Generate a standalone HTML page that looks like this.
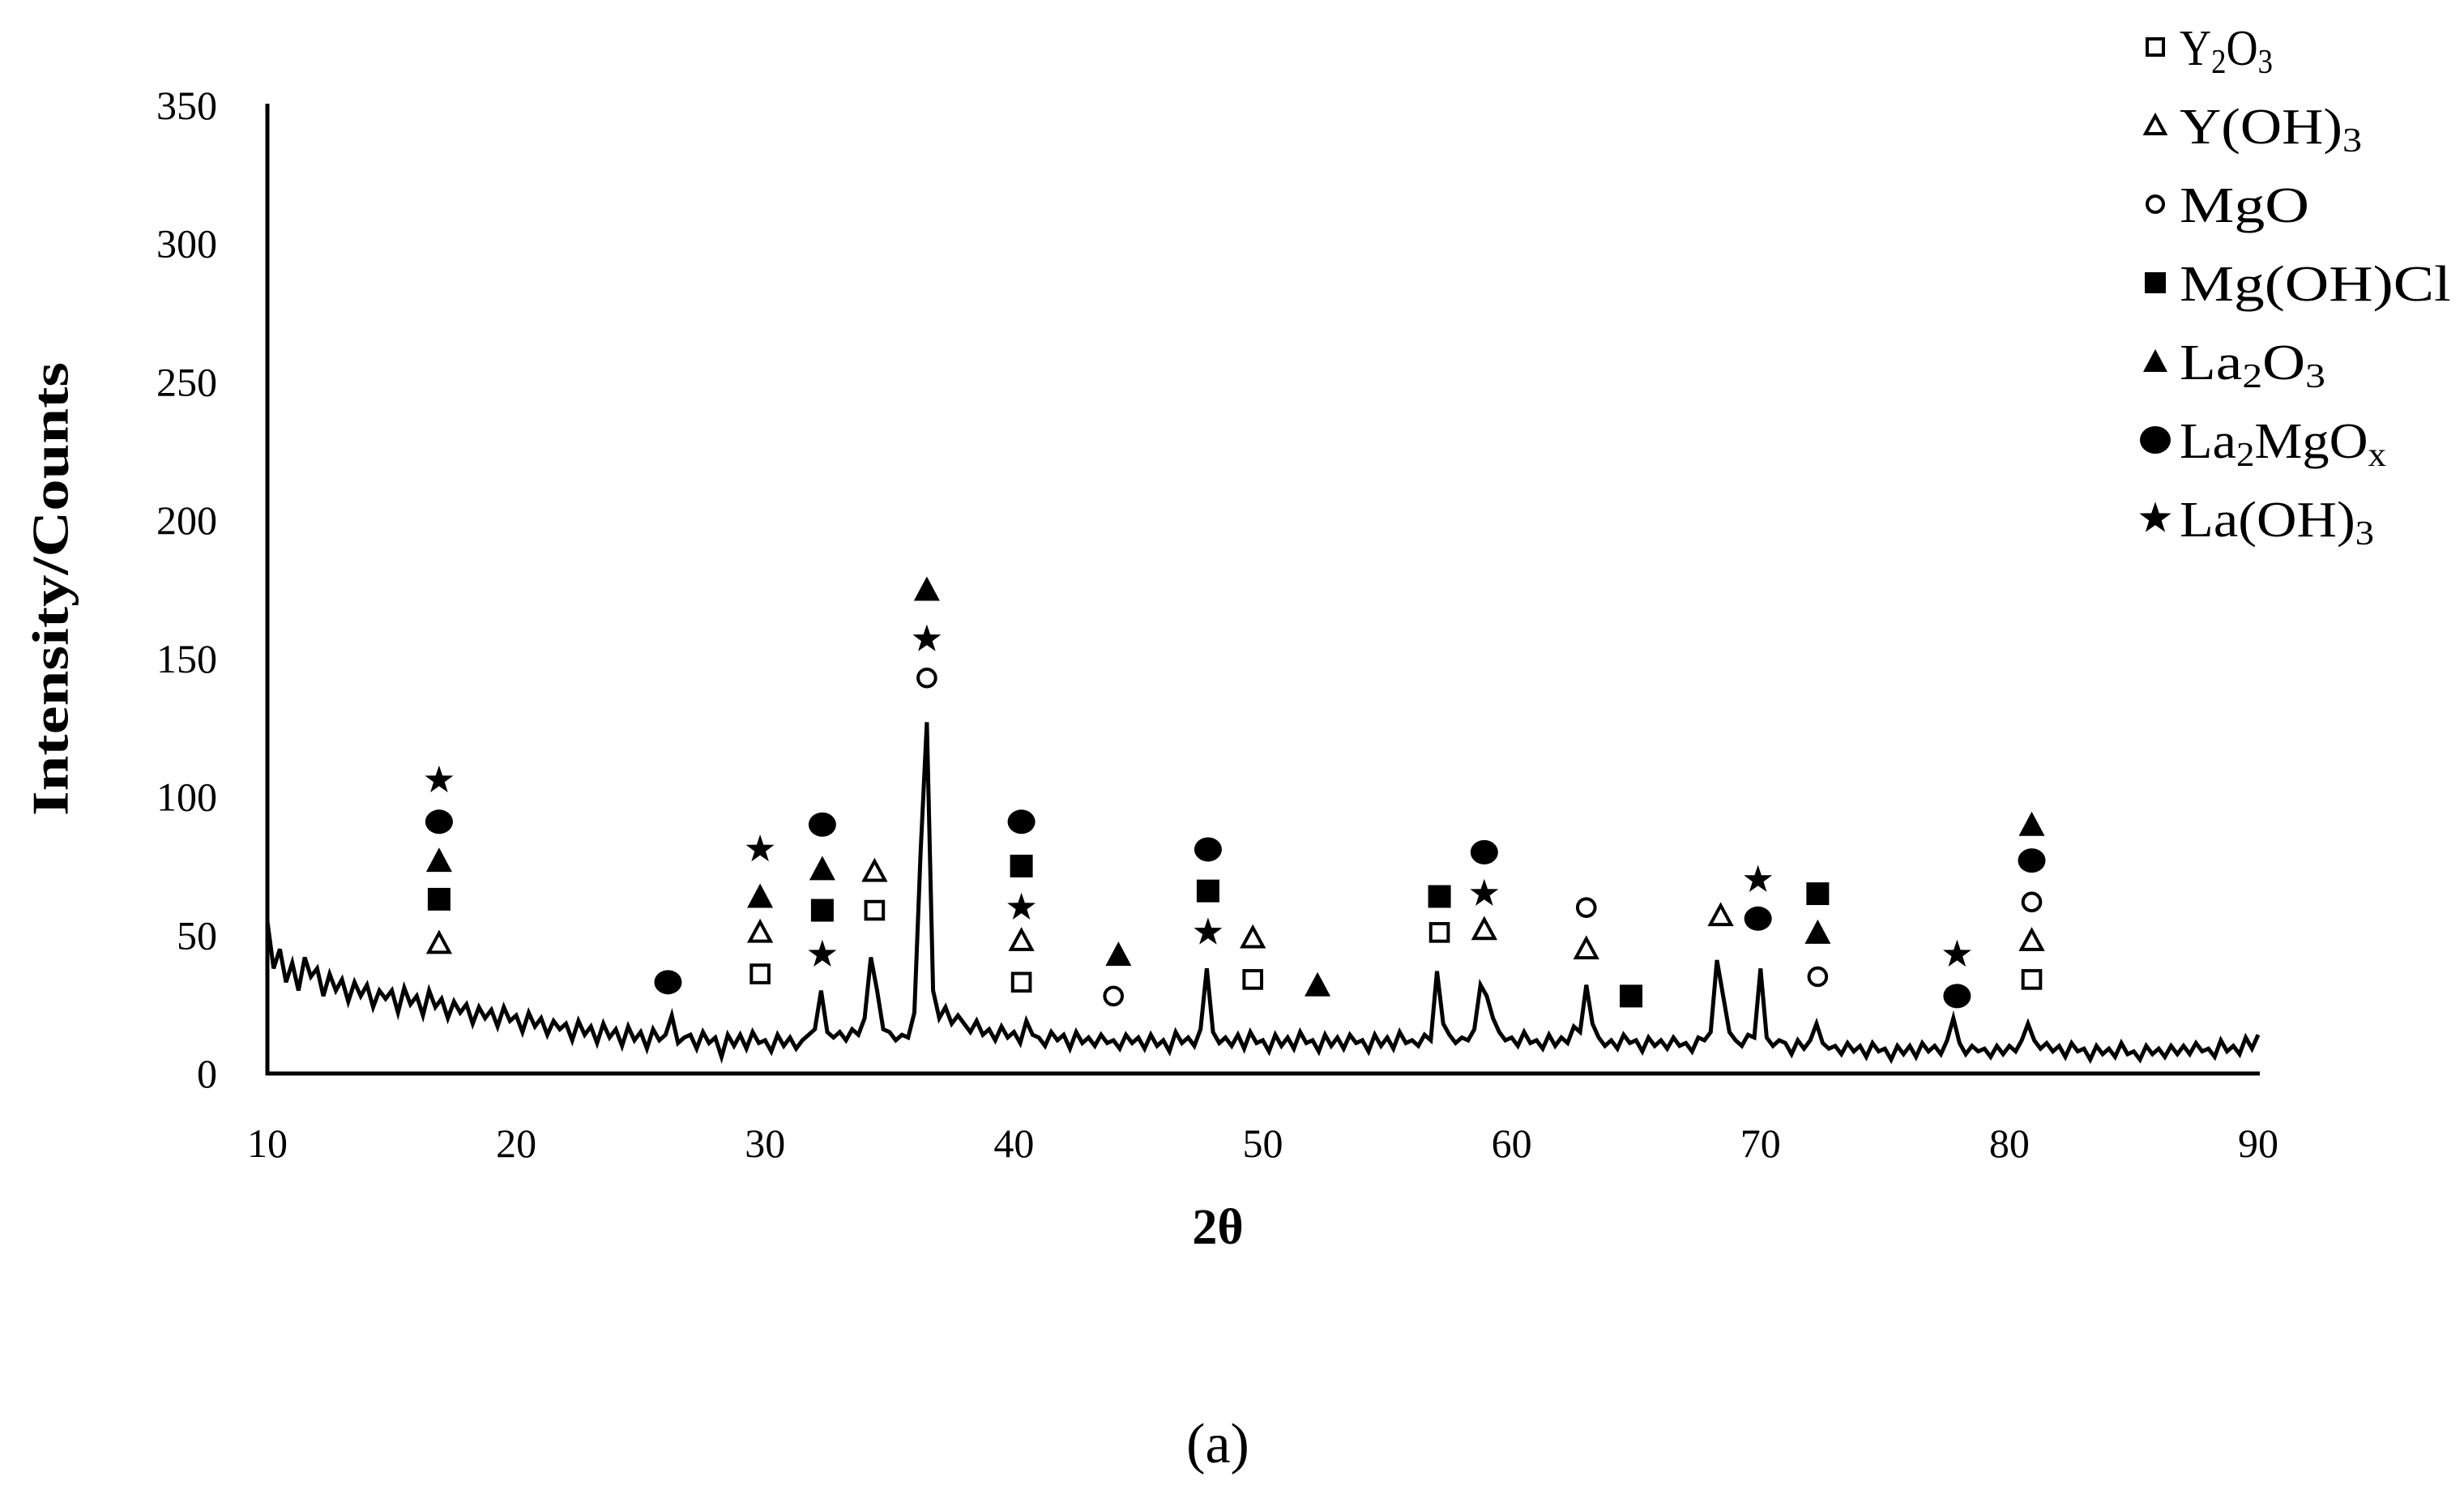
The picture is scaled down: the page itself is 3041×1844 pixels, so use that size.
<!DOCTYPE html>
<html><head><meta charset="utf-8"><style>
html,body{margin:0;padding:0;background:#fff}
svg{display:block;font-family:"Liberation Serif",serif}
</style></head><body>
<svg width="3041" height="1844" viewBox="0 0 3041 1844" xmlns="http://www.w3.org/2000/svg">
<rect width="3041" height="1844" fill="#fff"/>
<g id="ticks"></g>
<g id="curve"></g>
<g id="marks"></g>
<line x1="330" y1="128" x2="330" y2="1327" stroke="#000" stroke-width="5"/>
<line x1="328" y1="1325" x2="2789" y2="1325" stroke="#000" stroke-width="5"/>
<text x="62" y="727" transform="rotate(-90 62 727)" text-anchor="middle" font-size="64" font-weight="bold" dominant-baseline="central" textLength="560" lengthAdjust="spacingAndGlyphs">Intensity/Counts</text>
<text x="1503" y="1535" text-anchor="middle" font-size="62" font-weight="bold">2θ</text>
<text x="1503" y="1805" text-anchor="middle" font-size="70">(a)</text>
<g id="legend"></g>
</svg>
<script>
const yTicks=[0,50,100,150,200,250,300,350];
const xTicks=[10,20,30,40,50,60,70,80,90];
const xStart=10, xStep=0.25;
const intensity=[55,38,45,33,40,30,42,35,38,28,36,30,34,26,33,28,32,24,30,27,30,22,31,25,28,21,30,24,27,20,26,22,25,18,24,20,23,17,24,19,21,15,22,17,20,14,19,16,18,12,19,14,17,11,18,13,16,10,17,12,15,9,16,12,14,21,11,13,14,9,15,11,13,6,14,10,14,9,15,11,12,8,14,10,13,9,12,14,16,30,15,13,15,12,16,14,20,42,30,16,15,12,14,13,22,80,127,30,20,24,18,21,18,15,19,14,16,12,17,13,15,11,19,14,13,10,15,12,14,9,15,11,13,10,14,11,12,9,14,11,13,9,14,10,12,8,15,11,13,10,16,38,15,11,13,10,14,9,15,11,12,8,14,10,13,9,15,11,12,8,14,10,13,9,14,11,12,8,14,10,13,9,15,11,12,10,14,12,37,18,14,11,13,12,16,32,28,20,15,12,13,10,15,11,12,9,14,10,13,11,17,15,32,18,13,10,12,9,14,11,12,8,13,10,12,9,13,10,11,8,13,12,15,41,28,15,12,10,14,13,38,13,10,12,11,7,12,9,12,18,11,9,10,7,11,8,10,6,11,8,9,5,10,7,10,6,11,8,10,7,12,20,11,7,10,8,9,6,10,7,10,8,12,18,12,9,11,8,10,6,11,8,9,5,10,7,9,6,11,7,8,5,10,7,9,6,10,7,10,7,11,8,9,6,12,8,10,7,13,9,14];
const markPos=[16.9,16.9,16.9,16.9,16.9,26.1,29.8,29.8,29.8,29.8,32.3,32.3,32.3,32.3,34.4,34.4,36.5,36.5,36.5,40.3,40.3,40.3,40.3,40.3,44.2,44.0,47.8,47.8,47.8,49.6,49.6,52.2,57.1,57.1,58.9,58.9,58.9,63,63,64.8,68.4,69.9,69.9,72.3,72.3,72.3,77.9,77.9,80.9,80.9,80.9,80.9,80.9];
const markVal=[106,91,77,63,47,33,81,64,51,36,90,74,59,43,73,59,175,157,143,91,75,60,48,33,43,28,81,66,51,49,34,32,64,51,80,65,52,60,45,28,57,70,56,65,51,35,43,28,90,77,62,48,34];
const markType=["star","fcirc","ftri","fsq","otri","fcirc","star","ftri","otri","osq","fcirc","ftri","fsq","star","otri","osq","ftri","star","ocirc","fcirc","fsq","star","otri","osq","ftri","ocirc","fcirc","fsq","star","otri","osq","ftri","fsq","osq","fcirc","star","otri","ocirc","otri","fsq","otri","star","fcirc","fsq","ftri","ocirc","star","fcirc","ftri","fcirc","ocirc","otri","osq"];
const legendTypes=["osq","otri","ocirc","fsq","ftri","fcirc","star"];
const legendLabels=[["Y","2","O","3"],["Y(OH)","3"],["MgO"],["Mg(OH)Cl"],["La","2","O","3"],["La","2","MgO","x"],["La(OH)","3"]];
const legendWidths=[115,225,160,335,180,255,240];

const NS="http://www.w3.org/2000/svg";
const X=v=>330+(v-10)/80*2457;
const Y=v=>1325-v/350*1195;
function mk(tag,attrs,parent){const e=document.createElementNS(NS,tag);for(const k in attrs)e.setAttribute(k,attrs[k]);parent.appendChild(e);return e;}
const ticks=document.getElementById('ticks');
yTicks.forEach(t=>{const e=mk('text',{x:268,y:Y(t)+17,'text-anchor':'end','font-size':50},ticks);e.textContent=t;

});
xTicks.forEach(t=>{const e=mk('text',{x:X(t),y:1428,'text-anchor':'middle','font-size':50},ticks);e.textContent=t;

});
const pts=intensity.map((v,i)=>X(xStart+i*xStep).toFixed(1)+','+Y(v).toFixed(1)).join(' ');
const pl=mk('polyline',{points:pts,fill:'none',stroke:'#000','stroke-width':5,'stroke-linejoin':'miter'},document.getElementById('curve'));


function marker(type,cx,cy,parent,s){
  let e;let h=s/2;
  const open=type[0]==='o';
  if(open) h=h*0.8;
  const st=open?{fill:'#fff',stroke:'#000','stroke-width':4}:{fill:'#000'};
  if(type.endsWith('sq')) e=mk('rect',Object.assign({x:cx-h+2,y:cy-h+2,width:2*h-4,height:2*h-4},st),parent);
  else if(type.endsWith('circ')) e=mk('ellipse',Object.assign({cx:cx,cy:cy,rx:open?h-2:h+1,ry:open?h-2:h-1},st),parent);
  else if(type.endsWith('tri')) e=mk('polygon',Object.assign({points:`${cx},${cy-h} ${cx+h},${cy+h-2} ${cx-h},${cy+h-2}`},st),parent);
  else {let p=[];for(let k=0;k<10;k++){const r=k%2?h*0.45:h*1.15;const a=-Math.PI/2+k*Math.PI/5;p.push((cx+r*Math.cos(a)).toFixed(1)+','+(cy+r*Math.sin(a)).toFixed(1));}
    e=mk('polygon',{points:p.join(' '),fill:'#000'},parent);}
  return e;
}
const marks=document.getElementById('marks');
markPos.forEach((p,i)=>{const e=marker(markType[i],X(p),Y(markVal[i]),marks,32);

});
const leg=document.getElementById('legend');
legendTypes.forEach((t,i)=>{const y=58+i*97;
  const m=marker(t,2660,y,leg,t==='star'||t==='fcirc'?36:30);
  
  
  const tx=mk('text',{x:2690,y:y+22,'font-size':62,textLength:legendWidths[i],lengthAdjust:'spacingAndGlyphs'},leg);
  
  
  legendLabels[i].forEach((s,j)=>{const ts=mk('tspan',{},tx);ts.textContent=s;
    if(j%2===1){ts.setAttribute('font-size','42');ts.setAttribute('dy','10');}
    else if(j>0){ts.setAttribute('dy','-10');}});
});
</script>
</body></html>
